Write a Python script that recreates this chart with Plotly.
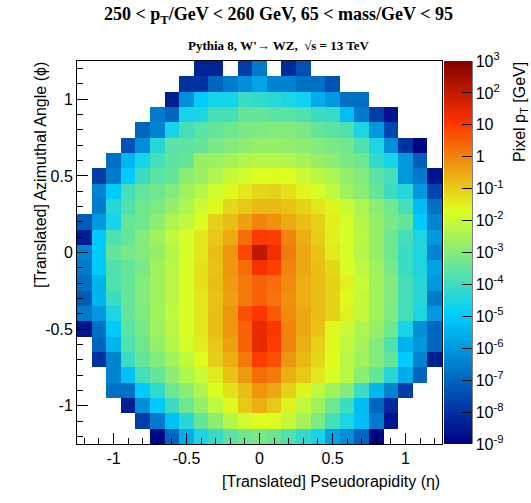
import numpy as np
import plotly.graph_objects as go

# Bin centres of the 25 x 25 jet image (translated eta / phi)
eta_centers = [round(-1.2 + 0.1 * i, 1) for i in range(25)]
phi_centers = [round(-1.2 + 0.1 * i, 1) for i in range(25)]

_ = None
# log10(pixel pT / GeV), one list per phi row, listed from phi = +1.2 down to phi = -1.2
log_pt_rows_top_down = [
    [_, _, _, _, _, _, _, _, -8.3, -8.3, _, -7.8, -6.6, _, -8.2, -7.4, _, _, _, _, _, _, _, _, _],
    [_, _, _, _, _, _, _, -8.0, -8.0, -7.0, -6.6, -6.2, -5.75, -6.4, -6.4, -6.8, -6.8, -7.4, _, _, _, _, _, _, _],
    [_, _, _, _, _, _, -8.4, -6.2, -5.0, -4.6, -4.6, -4.05, -4.2, -4.3, -4.5, -4.7, -5.6, -6.0, -6.8, -6.8, _, _, _, _, _],
    [_, _, _, _, _, -6.6, -7.0, -4.6, -4.5, -3.9, -3.9, -3.46, -3.46, -3.6, -3.6, -3.75, -4.05, -4.1, -5.25, -6.6, -7.8, -8.6, _, _, _],
    [_, _, _, _, -7.0, -6.4, -4.6, -3.9, -3.6, -3.46, -3.3, -3.17, -3.1, -3.02, -3.0, -3.17, -3.46, -3.6, -3.75, -4.5, -6.0, -7.6, _, _, _],
    [_, _, _, -7.4, -6.2, -4.35, -3.6, -3.55, -3.46, -3.17, -3.02, -2.88, -2.73, -2.73, -2.8, -2.88, -3.02, -3.17, -3.3, -3.75, -4.5, -6.2, -8.0, -8.95, _],
    [_, _, -6.8, -5.45, -4.6, -3.9, -3.55, -3.46, -2.73, -2.66, -2.51, -2.37, -2.26, -2.3, -2.37, -2.51, -2.73, -2.88, -3.17, -3.3, -4.2, -4.6, -6.0, -7.2, _],
    [_, -7.8, -6.6, -5.0, -4.05, -3.6, -3.46, -2.88, -2.66, -2.37, -2.07, -1.85, -1.71, -1.65, -1.7, -2.0, -2.22, -2.44, -2.73, -3.02, -3.6, -3.9, -6.0, -6.6, -8.6],
    [_, -6.4, -5.0, -3.9, -3.46, -3.3, -3.02, -2.58, -2.3, -1.85, -1.6, -1.35, -1.14, -1.07, -1.27, -1.55, -1.8, -2.14, -2.58, -2.88, -3.46, -4.05, -4.35, -6.0, -7.6],
    [_, -6.6, -4.35, -3.75, -3.3, -3.1, -2.73, -2.37, -1.95, -1.6, -1.14, -0.94, -0.73, -0.73, -0.87, -1.07, -1.35, -1.55, -2.0, -2.37, -2.88, -3.25, -3.9, -5.25, -6.8],
    [-7.2, -6.0, -4.6, -3.46, -3.3, -2.88, -2.37, -2.14, -1.72, -1.07, -0.8, -0.39, 0.0, -0.19, -0.53, -0.8, -1.07, -1.47, -1.8, -2.3, -2.73, -3.17, -3.46, -5.0, -6.4],
    [-8.4, -5.0, -3.75, -3.46, -3.02, -2.58, -2.14, -1.78, -1.35, -0.94, -0.53, 0.28, 1.0, 0.95, 0.0, -0.6, -1.0, -1.47, -1.78, -2.22, -2.73, -3.3, -3.9, -4.5, -6.0],
    [-6.4, -5.0, -3.46, -3.17, -3.02, -2.73, -2.3, -1.78, -1.35, -0.8, -0.26, 0.82, 2.08, 1.27, 0.12, -0.5, -0.87, -1.4, -1.8, -2.3, -2.73, -3.3, -4.05, -4.5, -6.4],
    [-6.6, -5.0, -3.75, -3.46, -3.17, -2.58, -2.22, -1.78, -1.27, -0.87, -0.26, 0.28, 1.2, 0.9, 0.0, -0.5, -0.8, -1.14, -1.75, -2.14, -2.58, -3.17, -4.05, -4.5, -5.8],
    [-6.8, -5.45, -3.75, -3.46, -3.02, -2.58, -2.22, -1.78, -1.27, -0.8, -0.33, 0.15, 0.42, 0.3, -0.1, -0.6, -0.8, -1.07, -1.5, -2.0, -2.58, -3.02, -3.9, -4.35, -6.0],
    [-7.2, -5.45, -4.05, -3.46, -3.02, -2.58, -2.22, -1.78, -1.35, -0.87, -0.39, 0.1, 0.45, 0.2, -0.15, -0.6, -0.8, -1.07, -1.6, -2.07, -2.58, -3.02, -3.9, -4.35, -6.6],
    [-6.6, -6.0, -4.5, -3.46, -3.1, -2.58, -2.14, -1.78, -1.35, -0.8, -0.26, 0.7, 1.05, 0.55, -0.1, -0.5, -0.8, -1.07, -1.5, -2.07, -2.58, -3.1, -3.9, -4.5, -6.0],
    [-8.6, -6.8, -5.0, -3.6, -3.17, -2.58, -2.22, -1.78, -1.35, -0.8, -0.26, 0.42, 1.4, 1.05, 0.0, -0.5, -0.87, -1.6, -2.0, -2.37, -2.73, -3.3, -4.6, -6.2, -7.0],
    [_, -7.0, -5.45, -3.75, -3.3, -2.73, -2.3, -1.85, -1.45, -0.94, -0.39, 0.42, 1.45, 0.96, 0.0, -0.6, -1.07, -1.6, -2.14, -2.51, -3.02, -3.75, -5.5, -6.0, -7.0],
    [_, -8.0, -6.4, -4.05, -3.46, -3.02, -2.58, -2.14, -1.7, -1.0, -0.6, 0.15, 0.96, 0.7, -0.26, -0.73, -1.14, -1.65, -2.22, -2.58, -3.02, -3.46, -5.0, -6.4, -8.4],
    [_, _, -6.4, -5.2, -3.9, -3.46, -2.88, -2.37, -2.0, -1.4, -0.87, -0.33, 0.28, 0.15, -0.6, -0.94, -1.35, -1.78, -2.22, -2.88, -3.46, -4.35, -5.6, -7.0, _],
    [_, _, -6.8, -6.8, -5.0, -4.2, -3.3, -2.88, -2.37, -1.72, -1.27, -0.8, -0.26, -0.5, -1.07, -1.55, -2.14, -2.58, -3.02, -4.05, -5.4, -6.4, -7.8, _, _],
    [_, _, _, -8.4, -6.2, -5.0, -4.05, -3.3, -2.73, -2.14, -1.6, -0.94, -0.6, -0.94, -1.5, -2.14, -2.58, -3.3, -4.05, -5.25, -7.0, -8.2, _, _, _],
    [_, _, _, _, -7.8, -6.6, -5.2, -4.35, -3.46, -2.88, -2.3, -1.85, -1.7, -1.65, -2.07, -2.5, -3.1, -3.9, -4.5, -5.25, -6.6, -8.6, _, _, _],
    [_, _, _, _, _, -8.8, -7.0, -5.6, -4.5, -4.1, -3.6, -3.3, -3.17, -3.4, -3.75, -4.2, -4.6, -5.8, -6.2, -7.0, -8.9, _, _, _, _],
]

# colour-axis decades (log10 of pT / GeV) and their labels
decades = list(range(-9, 4))
decade_labels = ["10<sup>%d</sup>" % d if d not in (0, 1) else ("1" if d == 0 else "10") for d in decades]

# axis tick positions and labels (hyphen minus, as printed)
major_ticks = [-1.0, -0.5, 0.0, 0.5, 1.0]
major_labels = ["-1", "-0.5", "0", "0.5", "1"]
minor_ticks = [round(-1.2 + 0.1 * i, 1) for i in range(25)]
minor_ticks = [t for t in minor_ticks if all(abs(t - m) > 1e-9 for m in major_ticks)]

z = np.array([[np.nan if v is None else v for v in row] for row in log_pt_rows_top_down[::-1]])

# ROOT kRainBow palette
rainbow = [
    [0.00, "rgb(0,0,130)"],
    [0.34, "rgb(0,207,255)"],
    [0.61, "rgb(222,255,31)"],
    [0.84, "rgb(255,51,0)"],
    [1.00, "rgb(130,0,0)"],
]

W, H = 531, 503
ML, MR, MT, MB = 77, 89, 61, 59
PW = W - ML - MR
PH = H - MT - MB
SANS = "Liberation Sans, Arial, Helvetica, sans-serif"
SERIF = "Liberation Serif, Times New Roman, serif"

bar_x = 2 / PW + 1.0
bar_thick = 28
bar_right = bar_x + bar_thick / PW

fig = go.Figure(
    go.Heatmap(
        x=eta_centers,
        y=phi_centers,
        z=z,
        zmin=-9,
        zmax=3,
        colorscale=rainbow,
        hoverinfo="skip",
        colorbar=dict(
            thickness=bar_thick,
            thicknessmode="pixels",
            len=1,
            lenmode="fraction",
            x=bar_x,
            xanchor="left",
            xpad=0,
            y=0.5,
            yanchor="middle",
            ypad=0,
            outlinewidth=0,
            tickmode="array",
            tickvals=decades,
            ticktext=decade_labels,
            ticks="inside",
            ticklen=10,
            tickwidth=1,
            tickcolor="black",
            tickfont=dict(family=SANS, size=16, color="black"),
        ),
    )
)

axis_common = dict(
    tickmode="array",
    tickvals=major_ticks,
    ticktext=major_labels,
    ticks="inside",
    ticklen=11,
    tickwidth=1,
    tickcolor="black",
    showline=True,
    mirror=True,
    linecolor="black",
    linewidth=1,
    showgrid=False,
    zeroline=False,
    tickfont=dict(family=SANS, size=16, color="black"),
    minor=dict(
        tickmode="array",
        tickvals=minor_ticks,
        ticks="inside",
        ticklen=6,
        tickwidth=1,
        tickcolor="black",
        showgrid=False,
    ),
)

fig.update_layout(
    width=W,
    height=H,
    margin=dict(l=ML, r=MR, t=MT, b=MB, pad=0),
    paper_bgcolor="white",
    plot_bgcolor="white",
    xaxis=dict(range=[-1.25, 1.25], **axis_common),
    yaxis=dict(range=[-1.25, 1.25], **axis_common),
    showlegend=False,
)

# log minor ticks and axis line along the palette's right edge
shapes = [
    dict(type="line", xref="paper", yref="paper", x0=bar_right, x1=bar_right, y0=0, y1=1,
         line=dict(color="black", width=1))
]
for d in decades[:-1]:
    for k in range(2, 10):
        yy = (d + np.log10(k) - decades[0]) / (decades[-1] - decades[0])
        shapes.append(dict(type="line", xref="paper", yref="paper",
                           x0=bar_right - 5 / PW, x1=bar_right, y0=yy, y1=yy,
                           line=dict(color="black", width=1)))
fig.update_layout(shapes=shapes)

def px_x(p):
    return (p - ML) / PW

def px_y(p):
    return (H - MB - p) / PH

annotations = [
    dict(text="<b>250 &lt; p<sub>T</sub>/GeV &lt; 260 GeV, 65 &lt; mass/GeV &lt; 95</b>",
         x=px_x(278), y=px_y(16), xanchor="center", yanchor="middle",
         font=dict(family=SERIF, size=18, color="black")),
    dict(text="<b>Pythia 8, W'\u2192 WZ,  \u221as = 13 TeV</b>",
         x=px_x(279), y=px_y(45), xanchor="center", yanchor="middle",
         font=dict(family=SERIF, size=13, color="black")),
    dict(text="[Translated] Pseudorapidity (\u03b7)",
         x=1.0, y=px_y(481), xanchor="right", yanchor="middle",
         font=dict(family=SANS, size=16, color="black")),
    dict(text="[Translated] Azimuthal Angle (\u03d5)", textangle=-90,
         x=px_x(40), y=px_y(60), xanchor="center", yanchor="top",
         font=dict(family=SANS, size=16, color="black")),
    dict(text="Pixel p<sub>T</sub> [GeV]", textangle=-90,
         x=px_x(520), y=px_y(60), xanchor="center", yanchor="top",
         font=dict(family=SANS, size=16, color="black")),
]
for a in annotations:
    a.update(xref="paper", yref="paper", showarrow=False)
fig.update_layout(annotations=annotations)

fig.write_html("out.html")
